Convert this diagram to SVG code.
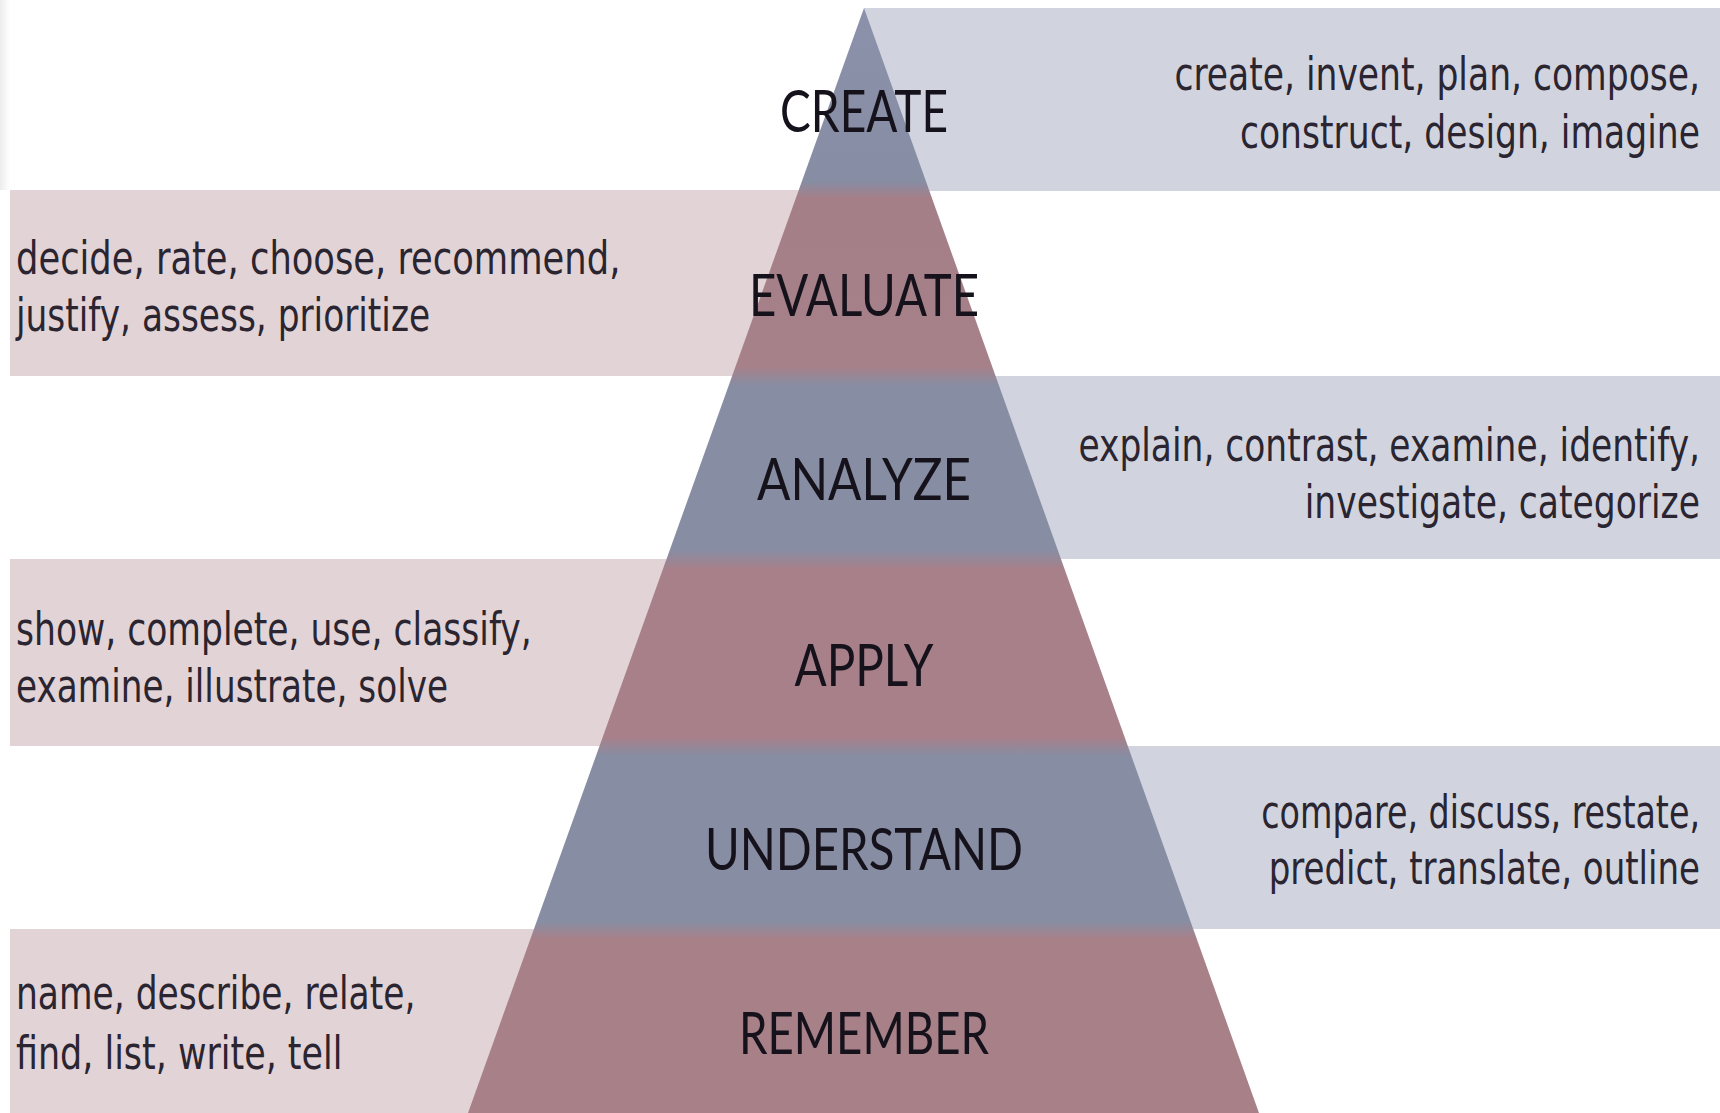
<svg xmlns="http://www.w3.org/2000/svg" width="1720" height="1113" viewBox="0 0 1720 1113">
<style>
.bandL{fill:#e2d3d6}
.bandR{fill:#d1d4df}
.lvl{font-family:"Lato","Open Sans","Liberation Sans",sans-serif;font-size:58px;fill:#16121c;text-anchor:middle}
.verb{font-family:"DejaVu Sans Condensed","Liberation Sans",sans-serif;font-size:47px;fill:#2a2530}
.r{text-anchor:end}
</style>
<defs>
<linearGradient id="pyr" gradientUnits="userSpaceOnUse" x1="0" y1="8" x2="0" y2="1113">
<stop offset="0" stop-color="#8b91aa"/>
<stop offset="0.157" stop-color="#878da3"/>
<stop offset="0.172" stop-color="#a57f88"/>
<stop offset="0.325" stop-color="#a6818a"/>
<stop offset="0.342" stop-color="#878da3"/>
<stop offset="0.49" stop-color="#878da3"/>
<stop offset="0.508" stop-color="#a7808a"/>
<stop offset="0.66" stop-color="#a7808a"/>
<stop offset="0.677" stop-color="#878da3"/>
<stop offset="0.826" stop-color="#878ea4"/>
<stop offset="0.843" stop-color="#a88088"/>
<stop offset="1" stop-color="#a88088"/>
</linearGradient>
<linearGradient id="edge" x1="0" y1="0" x2="1" y2="0">
<stop offset="0" stop-color="#ececec"/>
<stop offset="1" stop-color="#ffffff"/>
</linearGradient>
</defs>
<rect x="0" y="0" width="1720" height="1113" fill="#ffffff"/>
<rect x="0" y="0" width="10" height="190" fill="url(#edge)"/>
<g id="bands">
<rect class="bandR" x="864" y="8" width="856" height="183"/>
<rect class="bandL" x="10" y="190" width="854" height="186"/>
<rect class="bandR" x="864" y="376" width="856" height="183"/>
<rect class="bandL" x="10" y="559" width="854" height="187"/>
<rect class="bandR" x="864" y="746" width="856" height="183"/>
<rect class="bandL" x="10" y="929" width="854" height="184"/>
</g>
<polygon id="pyramid" points="864,8 1259,1113 468,1113" fill="url(#pyr)"/>
<g id="connectors"/>
<g id="create">
<text class="lvl" x="864" y="132" textLength="168" lengthAdjust="spacingAndGlyphs">CREATE</text>
<text class="verb r" transform="translate(1700 90) scale(0.82 1)" textLength="641" lengthAdjust="spacingAndGlyphs">create, invent, plan, compose,</text>
<text class="verb r" transform="translate(1700 148) scale(0.82 1)" textLength="561" lengthAdjust="spacingAndGlyphs">construct, design, imagine</text>
</g>
<g id="evaluate">
<text class="lvl" x="864" y="316" textLength="230" lengthAdjust="spacingAndGlyphs">EVALUATE</text>
<text class="verb" transform="translate(16 274) scale(0.82 1)" textLength="737" lengthAdjust="spacingAndGlyphs">decide, rate, choose, recommend,</text>
<text class="verb" transform="translate(16 331) scale(0.82 1)" textLength="505" lengthAdjust="spacingAndGlyphs">justify, assess, prioritize</text>
</g>
<g id="analyze">
<text class="lvl" x="864" y="500" textLength="214" lengthAdjust="spacingAndGlyphs">ANALYZE</text>
<text class="verb r" transform="translate(1700 461) scale(0.82 1)" textLength="758" lengthAdjust="spacingAndGlyphs">explain, contrast, examine, identify,</text>
<text class="verb r" transform="translate(1700 518) scale(0.82 1)" textLength="482" lengthAdjust="spacingAndGlyphs">investigate, categorize</text>
</g>
<g id="apply">
<text class="lvl" x="864" y="686" textLength="139" lengthAdjust="spacingAndGlyphs">APPLY</text>
<text class="verb" transform="translate(16 645) scale(0.82 1)" textLength="629" lengthAdjust="spacingAndGlyphs">show, complete, use, classify,</text>
<text class="verb" transform="translate(16 702) scale(0.82 1)" textLength="527" lengthAdjust="spacingAndGlyphs">examine, illustrate, solve</text>
</g>
<g id="understand">
<text class="lvl" x="864" y="870" textLength="318" lengthAdjust="spacingAndGlyphs">UNDERSTAND</text>
<text class="verb r" transform="translate(1700 828) scale(0.82 1)" textLength="535" lengthAdjust="spacingAndGlyphs">compare, discuss, restate,</text>
<text class="verb r" transform="translate(1700 884) scale(0.82 1)" textLength="526" lengthAdjust="spacingAndGlyphs">predict, translate, outline</text>
</g>
<g id="remember">
<text class="lvl" x="864" y="1054" textLength="250" lengthAdjust="spacingAndGlyphs">REMEMBER</text>
<text class="verb" transform="translate(16 1009) scale(0.82 1)" textLength="487" lengthAdjust="spacingAndGlyphs">name, describe, relate,</text>
<text class="verb" transform="translate(16 1069) scale(0.82 1)" textLength="398" lengthAdjust="spacingAndGlyphs">find, list, write, tell</text>
</g>
</svg>
